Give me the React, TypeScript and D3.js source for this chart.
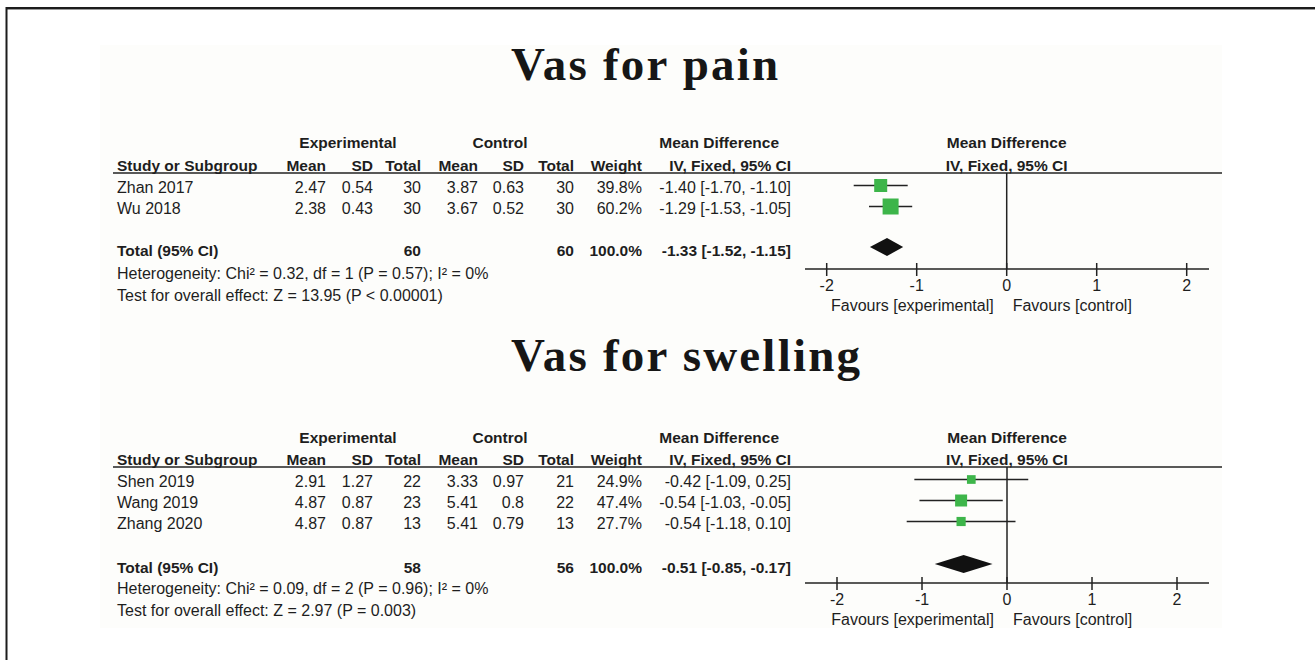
import React from "react";
import * as d3 from "d3";

// ---------- Data: Vas for pain ----------
const painStudies = ["Zhan 2017", "Wu 2018"];
const painExpMean = [2.47, 2.38];
const painExpSD = [0.54, 0.43];
const painExpN = [30, 30];
const painCtlMean = [3.87, 3.67];
const painCtlSD = [0.63, 0.52];
const painCtlN = [30, 30];
const painWeight = [39.8, 60.2];
const painMD = [-1.4, -1.29];
const painLo = [-1.7, -1.53];
const painHi = [-1.1, -1.05];
const painTotalN = [60, 60];
const painTotalEffect = [-1.33, -1.52, -1.15];
const painHet = "Heterogeneity: Chi\u00b2 = 0.32, df = 1 (P = 0.57); I\u00b2 = 0%";
const painTest = "Test for overall effect: Z = 13.95 (P < 0.00001)";

// ---------- Data: Vas for swelling ----------
const swStudies = ["Shen 2019", "Wang 2019", "Zhang 2020"];
const swExpMean = [2.91, 4.87, 4.87];
const swExpSD = [1.27, 0.87, 0.87];
const swExpN = [22, 23, 13];
const swCtlMean = [3.33, 5.41, 5.41];
const swCtlSD = [0.97, 0.8, 0.79];
const swCtlN = [21, 22, 13];
const swWeight = [24.9, 47.4, 27.7];
const swMD = [-0.42, -0.54, -0.54];
const swLo = [-1.09, -1.03, -1.18];
const swHi = [0.25, -0.05, 0.1];
const swTotalN = [58, 56];
const swTotalEffect = [-0.51, -0.85, -0.17];
const swHet = "Heterogeneity: Chi\u00b2 = 0.09, df = 2 (P = 0.96); I\u00b2 = 0%";
const swTest = "Test for overall effect: Z = 2.97 (P = 0.003)";

const axisTicks = [-2, -1, 0, 1, 2];
const titles = ["Vas for pain", "Vas for swelling"];

// ---------- Styles / layout ----------
const FONT = "'Liberation Sans', Arial, sans-serif";
const TXT = "#1e1e1e";
const LINE = "#222";
const GREEN = "#3db54a";
const FS = 16;
const FSB = 15.5;

const colRight = {
  mean1: 326,
  sd1: 373,
  tot1: 421,
  mean2: 478,
  sd2: 524,
  tot2: 574,
  weight: 642,
  ci: 791,
};

type Panel = {
  title: string;
  titleY: number;
  studies: string[];
  expMean: number[];
  expSD: number[];
  expN: number[];
  ctlMean: number[];
  ctlSD: number[];
  ctlN: number[];
  weight: number[];
  md: number[];
  lo: number[];
  hi: number[];
  totalN: number[];
  totalEffect: number[];
  het: string;
  test: string;
  hdr1Y: number;
  hdr2Y: number;
  lineY: number;
  rowY0: number;
  rowStep: number;
  totalY: number;
  hetY: number;
  testY: number;
  axisY: number;
  range: [number, number];
  boxMax: number;
};

const panels: Panel[] = [
  {
    title: titles[0],
    titleY: 80,
    studies: painStudies,
    expMean: painExpMean,
    expSD: painExpSD,
    expN: painExpN,
    ctlMean: painCtlMean,
    ctlSD: painCtlSD,
    ctlN: painCtlN,
    weight: painWeight,
    md: painMD,
    lo: painLo,
    hi: painHi,
    totalN: painTotalN,
    totalEffect: painTotalEffect,
    het: painHet,
    test: painTest,
    hdr1Y: 142,
    hdr2Y: 165,
    lineY: 173,
    rowY0: 187,
    rowStep: 21,
    totalY: 250,
    hetY: 273,
    testY: 295,
    axisY: 269,
    range: [826.7, 1186.7],
    boxMax: 16,
  },
  {
    title: titles[1],
    titleY: 371,
    studies: swStudies,
    expMean: swExpMean,
    expSD: swExpSD,
    expN: swExpN,
    ctlMean: swCtlMean,
    ctlSD: swCtlSD,
    ctlN: swCtlN,
    weight: swWeight,
    md: swMD,
    lo: swLo,
    hi: swHi,
    totalN: swTotalN,
    totalEffect: swTotalEffect,
    het: swHet,
    test: swTest,
    hdr1Y: 437,
    hdr2Y: 459,
    lineY: 467,
    rowY0: 481,
    rowStep: 21,
    totalY: 567,
    hetY: 588,
    testY: 610,
    axisY: 583,
    range: [837, 1177],
    boxMax: 12,
  },
];

const T = (props: any) => (
  <text
    fontFamily={FONT}
    fontSize={props.fontWeight === "bold" ? FSB : FS}
    fill={TXT}
    dominantBaseline="central"
    {...props}
  />
);

function PanelView({ p }: { p: Panel }) {
  const x = d3.scaleLinear().domain([-2, 2]).range(p.range);
  const maxW = d3.max(p.weight) as number;
  const box = d3.scaleSqrt().domain([0, maxW]).range([0, p.boxMax]);
  const rowY = (i: number) => p.rowY0 + i * p.rowStep;
  const x0 = x(0);
  const [tMd, tLo, tHi] = p.totalEffect;
  const dh = 9;
  const diamond = d3.line()([
    [x(tLo), p.totalY - 3],
    [x(tMd), p.totalY - 3 - dh],
    [x(tHi), p.totalY - 3],
    [x(tMd), p.totalY - 3 + dh],
  ]) + "Z";
  const ci = (m: number, l: number, h: number) =>
    `${m.toFixed(2)} [${l.toFixed(2)}, ${h.toFixed(2)}]`;

  return (
    <g>
      <text
        x={511}
        y={p.titleY}
        fontFamily="'Liberation Serif', 'Times New Roman', serif"
        fontWeight="bold"
        fontSize={47}
        letterSpacing={2.2}
        fill="#161616"
      >
        {p.title}
      </text>

      {/* header row 1 */}
      <T x={348} y={p.hdr1Y} fontWeight="bold" textAnchor="middle">Experimental</T>
      <T x={500} y={p.hdr1Y} fontWeight="bold" textAnchor="middle">Control</T>
      <T x={colRight.ci - 12} y={p.hdr1Y} fontWeight="bold" textAnchor="end">Mean Difference</T>
      <T x={x0} y={p.hdr1Y} fontWeight="bold" textAnchor="middle">Mean Difference</T>

      {/* header row 2 */}
      <T x={117} y={p.hdr2Y} fontWeight="bold">Study or Subgroup</T>
      <T x={colRight.mean1} y={p.hdr2Y} fontWeight="bold" textAnchor="end">Mean</T>
      <T x={colRight.sd1} y={p.hdr2Y} fontWeight="bold" textAnchor="end">SD</T>
      <T x={colRight.tot1} y={p.hdr2Y} fontWeight="bold" textAnchor="end">Total</T>
      <T x={colRight.mean2} y={p.hdr2Y} fontWeight="bold" textAnchor="end">Mean</T>
      <T x={colRight.sd2} y={p.hdr2Y} fontWeight="bold" textAnchor="end">SD</T>
      <T x={colRight.tot2} y={p.hdr2Y} fontWeight="bold" textAnchor="end">Total</T>
      <T x={colRight.weight} y={p.hdr2Y} fontWeight="bold" textAnchor="end">Weight</T>
      <T x={colRight.ci} y={p.hdr2Y} fontWeight="bold" textAnchor="end">IV, Fixed, 95% CI</T>
      <T x={x0} y={p.hdr2Y} fontWeight="bold" textAnchor="middle">IV, Fixed, 95% CI</T>

      <line x1={113} x2={1222} y1={p.lineY} y2={p.lineY} stroke={LINE} strokeWidth={1.5} />

      {/* study rows */}
      {p.studies.map((s, i) => {
        const y = rowY(i);
        const b = box(p.weight[i]);
        return (
          <g key={s}>
            <T x={117} y={y}>{s}</T>
            <T x={colRight.mean1} y={y} textAnchor="end">{String(p.expMean[i])}</T>
            <T x={colRight.sd1} y={y} textAnchor="end">{String(p.expSD[i])}</T>
            <T x={colRight.tot1} y={y} textAnchor="end">{p.expN[i]}</T>
            <T x={colRight.mean2} y={y} textAnchor="end">{String(p.ctlMean[i])}</T>
            <T x={colRight.sd2} y={y} textAnchor="end">{String(p.ctlSD[i])}</T>
            <T x={colRight.tot2} y={y} textAnchor="end">{p.ctlN[i]}</T>
            <T x={colRight.weight} y={y} textAnchor="end">{p.weight[i].toFixed(1) + "%"}</T>
            <T x={colRight.ci} y={y} textAnchor="end">{ci(p.md[i], p.lo[i], p.hi[i])}</T>
            <line x1={x(p.lo[i])} x2={x(p.hi[i])} y1={y - 1.5} y2={y - 1.5} stroke={LINE} strokeWidth={1.5} />
            <rect x={x(p.md[i]) - b / 2} y={y - 1.5 - b / 2} width={b} height={b} fill={GREEN} />
          </g>
        );
      })}

      {/* total row */}
      <T x={117} y={p.totalY} fontWeight="bold">Total (95% CI)</T>
      <T x={colRight.tot1} y={p.totalY} fontWeight="bold" textAnchor="end">{p.totalN[0]}</T>
      <T x={colRight.tot2} y={p.totalY} fontWeight="bold" textAnchor="end">{p.totalN[1]}</T>
      <T x={colRight.weight} y={p.totalY} fontWeight="bold" textAnchor="end">100.0%</T>
      <T x={colRight.ci} y={p.totalY} fontWeight="bold" textAnchor="end">{ci(tMd, tLo, tHi)}</T>
      <path d={diamond} fill="#111" />

      <T x={117} y={p.hetY}>{p.het}</T>
      <T x={117} y={p.testY}>{p.test}</T>

      {/* zero line */}
      <line x1={x0} x2={x0} y1={p.lineY} y2={p.axisY} stroke={LINE} strokeWidth={1.5} />

      {/* axis */}
      <line x1={805} x2={1209} y1={p.axisY} y2={p.axisY} stroke={LINE} strokeWidth={1.5} />
      {axisTicks.map((t) => (
        <g key={t}>
          <line x1={x(t)} x2={x(t)} y1={p.axisY - 6} y2={p.axisY + 7} stroke={LINE} strokeWidth={1.5} />
          <T x={x(t)} y={p.axisY + 16} textAnchor="middle">{t < 0 ? "-" + Math.abs(t) : String(t)}</T>
        </g>
      ))}
      <T x={x0 - 13} y={p.axisY + 36} textAnchor="end">Favours [experimental]</T>
      <T x={x0 + 6} y={p.axisY + 36}>Favours [control]</T>
    </g>
  );
}

export default function App() {
  return (
    <svg
      width={1315}
      height={660}
      style={{ position: "absolute", left: 0, top: 0, background: "#fff" }}
    >
      <rect x={0} y={0} width={1315} height={660} fill="#fff" />
      <rect x={100} y={45} width={1122} height={583} fill="#fdfdfb" />
      {/* frame */}
      <line x1={6} x2={1315} y1={8} y2={8} stroke="#1c1c1c" strokeWidth={2} />
      <line x1={6} x2={1315} y1={9.5} y2={9.5} stroke="#999" strokeWidth={1} />
      <line x1={6.5} x2={6.5} y1={7} y2={660} stroke="#1c1c1c" strokeWidth={2} />
      {panels.map((p) => (
        <PanelView key={p.title} p={p} />
      ))}
    </svg>
  );
}
